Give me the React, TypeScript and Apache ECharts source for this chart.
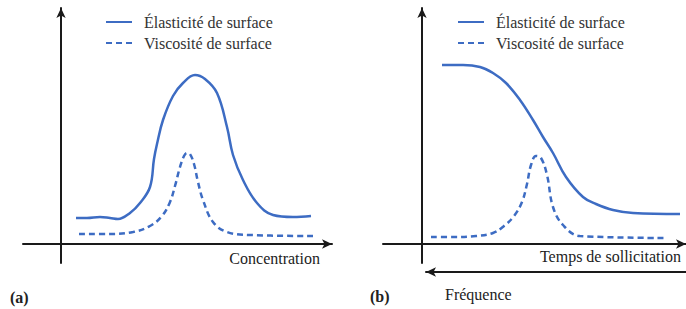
import React, { useEffect, useRef } from 'react';
import * as echarts from 'echarts';

const NAME_E = 'Élasticité de surface';
const NAME_V = 'Viscosité de surface';

// (a) x: concentration, y: modulus (arbitrary units)
const concElasticity: [number, number][] = [
  [15, 26], [26, 26], [39, 27], [49, 26], [57, 25], [69, 31], [79, 41], [89, 57],
  [93, 85], [96, 100], [102, 124], [112, 148], [122, 161], [134, 169], [144, 165],
  [156, 151], [166, 117], [172, 89], [182, 64], [196, 41], [212, 29], [232, 27], [250, 28],
];
const concViscosity: [number, number][] = [
  [18, 10], [49, 10], [72, 12], [89, 18], [101, 28], [109, 42], [114, 58], [119, 77],
  [123, 88], [126, 91], [129, 90], [133, 80], [137, 62], [142, 44], [152, 22], [166, 12],
  [189, 9], [252, 8],
];
// (b) x: time of solicitation
const timeElasticity: [number, number][] = [
  [20, 179], [41, 179], [58, 177], [71, 171], [84, 161], [98, 144], [111, 124], [121, 107],
  [131, 91], [144, 67], [161, 47], [174, 40], [191, 34], [211, 31], [258, 30],
];
const timeViscosity: [number, number][] = [
  [9, 7], [31, 7], [54, 8], [71, 11], [82, 18], [92, 28], [100, 42], [105, 60], [109, 79],
  [114, 88], [119, 86], [125, 69], [131, 37], [141, 19], [158, 8], [244, 6],
];

const BLUE = '#3d6cc3';
const AXIS = '#1a1a1a';
const FONT = 'Liberation Serif';

function axis(gridIndex: number, min: number, max: number, symbol: string[], show = true) {
  return {
    gridIndex, type: 'value', min, max, show,
    axisLine: { show: true, onZero: true, symbol, symbolSize: [7, 10], lineStyle: { color: AXIS, width: 2 } },
    axisTick: { show: false }, axisLabel: { show: false }, splitLine: { show: false },
  };
}

function line(name: string, data: [number, number][], idx: number, dashed: boolean) {
  return {
    type: 'line', name, data, xAxisIndex: idx, yAxisIndex: idx, smooth: 0.4, symbol: 'none',
    lineStyle: { color: BLUE, width: 2.5, type: dashed ? [6, 4] : 'solid' },
    itemStyle: { color: BLUE },
  };
}

function legend(left: number) {
  return {
    left, top: 9, orient: 'vertical', itemWidth: 26, itemHeight: 14, itemGap: 5,
    data: [NAME_E, NAME_V],
    itemStyle: { color: 'transparent', opacity: 0, borderWidth: 0 },
    formatter: (name: string) => `{g|}{n|${name}}`,
    textStyle: {
      fontFamily: FONT, fontSize: 16, color: '#333',
      rich: {
        g: { width: 7 },
        n: { fontFamily: FONT, fontSize: 16, color: '#333' },
      },
    },
  };
}

function label(text: string, x: number, y: number, align: string, bold = false) {
  return {
    type: 'text', x, y,
    style: {
      text, textAlign: align, textVerticalAlign: 'middle', fill: '#222',
      fontFamily: FONT, fontSize: 16, fontWeight: bold ? 'bold' : 'normal',
    },
  };
}

export default function App() {
  const ref = useRef<HTMLDivElement>(null);
  useEffect(() => {
    const chart = echarts.init(ref.current!, undefined, { renderer: 'svg' });
    chart.setOption({
      animation: false,
      grid: [
        { left: 23, top: 8, width: 309, height: 255 },
        { left: 383, top: 8, width: 303, height: 255 },
        { left: 426, top: 271, width: 260, height: 1 },
      ],
      xAxis: [
        axis(0, -38, 271, ['none', 'arrow']),
        axis(1, -39, 264, ['none', 'arrow']),
        axis(2, 0, 1, ['arrow', 'none']),
      ],
      yAxis: [
        axis(0, -19, 236, ['none', 'arrow']),
        axis(1, -19, 236, ['none', 'arrow']),
        axis(2, 0, 1, ['none', 'none'], false),
      ],
      legend: [legend(100), legend(452)],
      series: [
        line(NAME_E, concElasticity, 0, false),
        line(NAME_V, concViscosity, 0, true),
        line(NAME_E, timeElasticity, 1, false),
        line(NAME_V, timeViscosity, 1, true),
      ],
      graphic: [
        label('Concentration', 320, 258, 'right'),
        label('Temps de sollicitation', 681, 256, 'right'),
        label('Fréquence', 445, 294, 'left'),
        label('(a)', 10, 297, 'left', true),
        label('(b)', 370, 296, 'left', true),
      ],
    });
    return () => chart.dispose();
  }, []);
  return <div ref={ref} style={{ position: 'fixed', left: 0, top: 0, width: 686, height: 309, background: '#fff' }} />;
}
